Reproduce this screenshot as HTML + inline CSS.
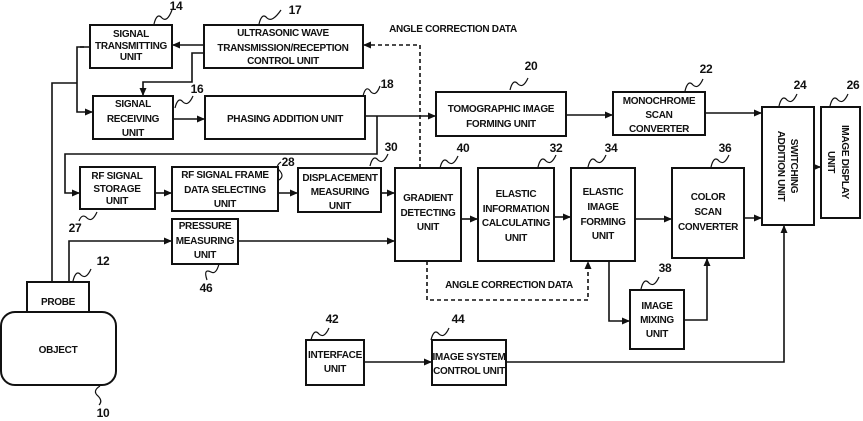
<!DOCTYPE html>
<html><head><meta charset="utf-8"><style>
body{margin:0;background:#fff}
svg{display:block}
text{font-family:"Liberation Sans",Arial,sans-serif;font-size:10px;font-weight:bold;fill:#111;text-anchor:middle;letter-spacing:-0.3px}
.n{font-size:12px}
rect{fill:#fff;stroke:#111;stroke-width:2}
.l{fill:none;stroke:#111;stroke-width:1.6}
.d{fill:none;stroke:#111;stroke-width:1.6;stroke-dasharray:4,3}
.s{fill:none;stroke:#111;stroke-width:1.2}
</style></head><body>
<svg width="863" height="421" viewBox="0 0 863 421" xmlns="http://www.w3.org/2000/svg">
<defs><marker id="a" markerWidth="8" markerHeight="8" refX="7" refY="4" orient="auto" markerUnits="userSpaceOnUse"><path d="M0,0.5 L8,4 L0,7.5z" fill="#111"/></marker></defs>

<path class="l" d="M204,45 H173" marker-end="url(#a)"/>
<path class="l" d="M204,53 H192 V82 H143 V95" marker-end="url(#a)"/>
<path class="l" d="M89,47 H77 V112 H92" marker-end="url(#a)"/>
<path class="l" d="M84,47 H80"/>
<path class="l" d="M77,83 H52 V282"/>
<path class="l" d="M69,282 V241 H171" marker-end="url(#a)"/>
<path class="l" d="M173,119 H204" marker-end="url(#a)"/>
<path class="l" d="M365,116 H435" marker-end="url(#a)"/>
<path class="l" d="M377,116 V154 H65 V193 H79" marker-end="url(#a)"/>
<path class="l" d="M155,193 H171" marker-end="url(#a)"/>
<path class="l" d="M278,193 H297" marker-end="url(#a)"/>
<path class="l" d="M381,193 H394" marker-end="url(#a)"/>
<path class="l" d="M238,241 H394" marker-end="url(#a)"/>
<path class="l" d="M461,219 H477" marker-end="url(#a)"/>
<path class="l" d="M554,217 H570" marker-end="url(#a)"/>
<path class="l" d="M635,219 H671" marker-end="url(#a)"/>
<path class="l" d="M744,218 H761" marker-end="url(#a)"/>
<path class="l" d="M566,115 H612" marker-end="url(#a)"/>
<path class="l" d="M705,113 H761" marker-end="url(#a)"/>
<path class="l" d="M814,167 H820" marker-end="url(#a)"/>
<path class="l" d="M609,261 V321 H629" marker-end="url(#a)"/>
<path class="l" d="M684,320 H707 V259" marker-end="url(#a)"/>
<path class="l" d="M506,362 H784 V226" marker-end="url(#a)"/>
<path class="l" d="M364,362 H431" marker-end="url(#a)"/>
<path class="d" d="M420,168 V45 H364" marker-end="url(#a)"/>
<path class="d" d="M427,261 V300 H588 V262" marker-end="url(#a)"/>

<rect x="90" y="25" width="82" height="43"/>
<text x="131" y="37">SIGNAL</text><text x="131" y="49">TRANSMITTING</text><text x="131" y="60">UNIT</text>
<rect x="204" y="25" width="159" height="43"/>
<text x="283" y="36">ULTRASONIC WAVE</text><text x="283" y="51">TRANSMISSION/RECEPTION</text><text x="283" y="64">CONTROL UNIT</text>
<rect x="93" y="96" width="80" height="43"/>
<text x="133" y="107">SIGNAL</text><text x="133" y="122">RECEIVING</text><text x="133" y="136">UNIT</text>
<rect x="205" y="96" width="160" height="43"/>
<text x="285" y="122">PHASING ADDITION UNIT</text>
<rect x="80" y="167" width="75" height="42"/>
<text x="117" y="179">RF SIGNAL</text><text x="117" y="192">STORAGE</text><text x="117" y="204">UNIT</text>
<rect x="172" y="167" width="106" height="44"/>
<text x="225" y="178">RF SIGNAL FRAME</text><text x="225" y="193">DATA SELECTING</text><text x="225" y="207">UNIT</text>
<rect x="298" y="168" width="83" height="44"/>
<text x="340" y="181">DISPLACEMENT</text><text x="340" y="195">MEASURING</text><text x="340" y="209">UNIT</text>
<rect x="395" y="168" width="66" height="93"/>
<text x="428" y="201">GRADIENT</text><text x="428" y="216">DETECTING</text><text x="428" y="230">UNIT</text>
<rect x="478" y="168" width="76" height="93"/>
<text x="516" y="197">ELASTIC</text><text x="516" y="212">INFORMATION</text><text x="516" y="226">CALCULATING</text><text x="516" y="241">UNIT</text>
<rect x="571" y="168" width="64" height="93"/>
<text x="603" y="195">ELASTIC</text><text x="603" y="210">IMAGE</text><text x="603" y="225">FORMING</text><text x="603" y="239">UNIT</text>
<rect x="672" y="168" width="72" height="90"/>
<text x="708" y="200">COLOR</text><text x="708" y="215">SCAN</text><text x="708" y="230">CONVERTER</text>
<rect x="762" y="107" width="52" height="118"/>
<text transform="translate(791,166) rotate(90)">SWITCHING</text>
<text transform="translate(778,166) rotate(90)">ADDITION UNIT</text>
<rect x="821" y="107" width="39" height="111"/>
<text transform="translate(842,162) rotate(90)">IMAGE DISPLAY</text>
<text transform="translate(828,162) rotate(90)">UNIT</text>
<rect x="436" y="92" width="130" height="44"/>
<text x="501" y="112">TOMOGRAPHIC IMAGE</text><text x="501" y="127">FORMING UNIT</text>
<rect x="613" y="92" width="92" height="43"/>
<text x="659" y="104">MONOCHROME</text><text x="659" y="118">SCAN</text><text x="659" y="132">CONVERTER</text>
<rect x="630" y="290" width="54" height="59"/>
<text x="657" y="309">IMAGE</text><text x="657" y="323">MIXING</text><text x="657" y="337">UNIT</text>
<rect x="172" y="219" width="66" height="45"/>
<text x="205" y="229">PRESSURE</text><text x="205" y="244">MEASURING</text><text x="205" y="258">UNIT</text>
<rect x="27" y="282" width="62" height="30"/>
<text x="58" y="305">PROBE</text>
<rect x="1" y="312" width="115" height="73" rx="14"/>
<text x="58" y="353">OBJECT</text>
<rect x="306" y="340" width="58" height="45"/>
<text x="335" y="358">INTERFACE</text><text x="335" y="372">UNIT</text>
<rect x="432" y="340" width="74" height="45"/>
<text x="469" y="360">IMAGE SYSTEM</text><text x="469" y="374">CONTROL UNIT</text>

<text x="453" y="32">ANGLE CORRECTION DATA</text>
<text x="509" y="288">ANGLE CORRECTION DATA</text>

<text class="n" x="176" y="10">14</text><path class="s" d="M154,24 q3,-12 8,-6 q5,5 10,-8"/>
<text class="n" x="295" y="14">17</text><path class="s" d="M259,24 q3,-12 8,-6 q5,5 14,-8"/>
<text class="n" x="197" y="93">16</text><path class="s" d="M175,108 q3,-12 8,-6 q5,5 10,-6"/>
<text class="n" x="387" y="88">18</text><path class="s" d="M363,96 q3,-12 8,-4 q5,5 9,-6"/>
<text class="n" x="531" y="70">20</text><path class="s" d="M510,90 q3,-12 8,-6 q5,5 10,-6"/>
<text class="n" x="706" y="73">22</text><path class="s" d="M685,91 q3,-12 8,-6 q5,5 10,-6"/>
<text class="n" x="800" y="89">24</text><path class="s" d="M779,106 q3,-12 8,-6 q5,5 10,-6"/>
<text class="n" x="853" y="89">26</text><path class="s" d="M830,106 q3,-12 8,-6 q5,5 10,-6"/>
<text class="n" x="288" y="166">28</text><path class="s" d="M279,180 q6,-4 0,-10 q-4,-4 2,-8"/>
<text class="n" x="391" y="151">30</text><path class="s" d="M370,166 q3,-12 8,-6 q5,5 10,-6"/>
<text class="n" x="463" y="152">40</text><path class="s" d="M440,168 q3,-12 8,-6 q5,5 10,-6"/>
<text class="n" x="556" y="152">32</text><path class="s" d="M538,167 q3,-12 8,-6 q5,5 10,-6"/>
<text class="n" x="611" y="152">34</text><path class="s" d="M588,167 q3,-12 8,-6 q5,5 10,-6"/>
<text class="n" x="725" y="152">36</text><path class="s" d="M711,167 q3,-12 8,-6 q5,5 10,-6"/>
<text class="n" x="665" y="272">38</text><path class="s" d="M641,289 q3,-12 8,-6 q5,5 10,-6"/>
<text class="n" x="75" y="232">27</text><path class="s" d="M79,221 q3,-8 8,-3 q5,5 10,-6"/>
<text class="n" x="103" y="265">12</text><path class="s" d="M73,281 q3,-12 8,-6 q5,5 10,-6"/>
<text class="n" x="206" y="292">46</text><path class="s" d="M207,280 q-4,-12 4,-8 q5,3 8,-8"/>
<text class="n" x="332" y="323">42</text><path class="s" d="M311,340 q3,-12 8,-6 q5,5 10,-6"/>
<text class="n" x="458" y="323">44</text><path class="s" d="M431,340 q3,-12 8,-6 q5,5 10,-6"/>
<text class="n" x="103" y="417">10</text><path class="s" d="M100,386 q-8,5 -2,10 q5,5 1,9"/>
</svg>
</body></html>
